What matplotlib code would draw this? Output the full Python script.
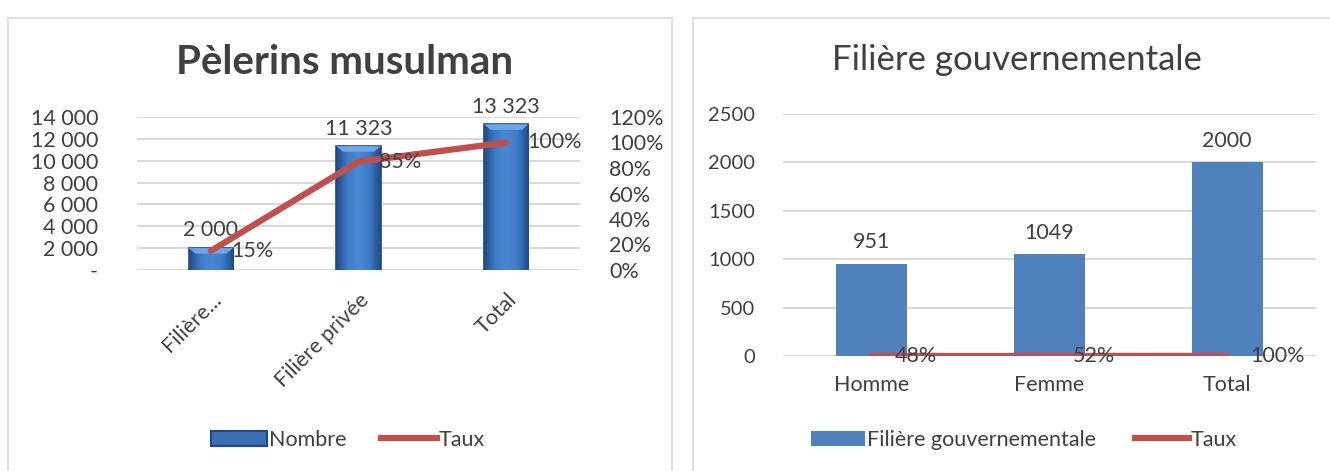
import numpy as np
import matplotlib.pyplot as plt
from matplotlib.patches import Rectangle
from matplotlib.lines import Line2D
from matplotlib.ticker import FuncFormatter
from matplotlib.colors import LinearSegmentedColormap

# data
cat_left = ["Filière...", "Filière privée", "Total"]
nombre = [2000, 11323, 13323]
taux_left = [0.15, 0.85, 1.00]

cat_right = ["Homme", "Femme", "Total"]
gouv = [951, 1049, 2000]
taux_right = [0.48, 0.52, 1.00]

W, H = 1330, 471
plt.rcParams['font.family'] = ['Lato', 'DejaVu Sans']
txt = '#404040'
grid_c = '#d9d9d9'
red = '#c0504d'
fs = 15.5

fig = plt.figure(figsize=(W / 100, H / 100), dpi=100)


def px_axes(x0, y0, x1, y1):
    # pixel box (top-left origin) -> figure axes
    return fig.add_axes([x0 / W, 1 - y1 / H, (x1 - x0) / W, (y1 - y0) / H])


# panel frames
for x0, x1 in [(8, 672), (693, 1340)]:
    fig.patches.append(Rectangle((x0 / W, -0.01), (x1 - x0) / W, 1 - 18 / H + 0.01,
                                 transform=fig.transFigure, fill=False,
                                 edgecolor='#d9d9d9', lw=1.2))

# ---------- left chart ----------
ax = px_axes(137, 117, 580, 270)
x = range(len(cat_left))
bars = ax.bar(x, nombre, width=0.3, color='#3a6fb5', edgecolor='#1f4a85', lw=1.2, zorder=2)
# bevel-like gradient inside each bar
grad = LinearSegmentedColormap.from_list('bev', ['#1f4a85', '#3f7cc8', '#4a88d4', '#3f7cc8', '#1f4a85'])
g = np.linspace(0, 1, 64).reshape(1, -1)
for b in bars:
    x0, w, h = b.get_x(), b.get_width(), b.get_height()
    im = ax.imshow(g, cmap=grad, extent=[x0, x0 + w, 0, h], aspect='auto', zorder=2.5)
    im.set_clip_path(b)
    top = min(500, h * 0.4)
    ax.fill([x0, x0 + w, x0 + w * 0.85, x0 + w * 0.15], [h, h, h - top, h - top],
            color='#6fa6e6', zorder=2.6, lw=0)
ax.set_ylim(0, 14000)
ax.set_xlim(-0.5, 2.5)
ax.set_yticks(range(0, 14001, 2000))
ax.yaxis.set_major_formatter(FuncFormatter(
    lambda v, p: '-' if v == 0 else f"{int(v):,}".replace(',', ' ')))
ax.grid(axis='y', color=grid_c, lw=1.5, zorder=0)
ax.set_xticks(list(x))
ax.set_xticklabels(cat_left, rotation=45, ha='right', rotation_mode='anchor')
for s in ax.spines.values():
    s.set_visible(False)
ax.tick_params(length=0, colors=txt, labelsize=fs, pad=28)
ax.tick_params(axis='x', pad=14)
for i, v in enumerate(nombre):
    ax.text(i, v + 700, f"{v:,}".replace(',', ' '), ha='center', va='bottom',
            fontsize=fs, color=txt)

ax2 = ax.twinx()
ax2.plot(list(x), taux_left, color=red, lw=4.5, solid_capstyle='round', zorder=3)
ax2.set_ylim(0, 1.2)
ax2.set_yticks([i / 5 for i in range(7)])
ax2.yaxis.set_major_formatter(FuncFormatter(lambda v, p: f"{v * 100:.0f}%"))
for s in ax2.spines.values():
    s.set_visible(False)
ax2.tick_params(length=0, colors=txt, labelsize=fs, pad=21)
for i, v in enumerate(taux_left):
    ax2.text(i + 0.14, v, f"{v * 100:.0f}%", ha='left', va='center',
             fontsize=fs, color=txt)

fig.text(345 / W, 1 - 62 / H, "Pèlerins musulman", ha='center', va='center',
         fontsize=29, fontweight='bold', color=txt)
handles = [Rectangle((0, 0), 1, 1, facecolor='#3a6fb5', edgecolor='#1f4a85', lw=1.5),
           Line2D([0], [0], color=red, lw=4.5)]
fig.legend(handles, ["Nombre", "Taux"], loc='center', bbox_to_anchor=(348 / W, 1 - 440 / H),
           ncol=2, frameon=False, fontsize=fs, labelcolor=txt, handlelength=2.6,
           handletextpad=0.1, columnspacing=1.6)

# ---------- right chart ----------
bx = px_axes(783, 114, 1316, 356)
xr = range(len(cat_right))
bx.bar(xr, gouv, width=0.4, color='#4f81bd', zorder=2)
bx.plot(list(xr), taux_right, color=red, lw=4.5, solid_capstyle='round', zorder=3)
bx.set_ylim(0, 2500)
bx.set_xlim(-0.5, 2.5)
bx.set_yticks(range(0, 2501, 500))
bx.grid(axis='y', color=grid_c, lw=1.5, zorder=0)
bx.set_xticks(list(xr))
bx.set_xticklabels(cat_right)
for s in bx.spines.values():
    s.set_visible(False)
bx.tick_params(length=0, colors=txt, labelsize=fs, pad=14)
bx.tick_params(axis='y', labelsize=14.5, pad=20)
for i, v in enumerate(gouv):
    bx.text(i, v + 120, str(v), ha='center', va='bottom', fontsize=fs, color=txt)
for i, v in enumerate(taux_right):
    bx.text(i + 0.13, v, f"{v * 100:.0f}%", ha='left', va='center',
            fontsize=fs, color=txt)

fig.text(1017 / W, 1 - 60 / H, "Filière gouvernementale", ha='center', va='center',
         fontsize=25, color=txt)
handles = [Rectangle((0, 0), 1, 1, facecolor='#4f81bd'),
           Line2D([0], [0], color=red, lw=4.5)]
fig.legend(handles, ["Filière gouvernementale", "Taux"], loc='center',
           bbox_to_anchor=(1024 / W, 1 - 440 / H), ncol=2, frameon=False,
           fontsize=fs, labelcolor=txt, handlelength=2.5, handletextpad=0.1,
           columnspacing=1.8)

fig.savefig("out.png", dpi=100)
